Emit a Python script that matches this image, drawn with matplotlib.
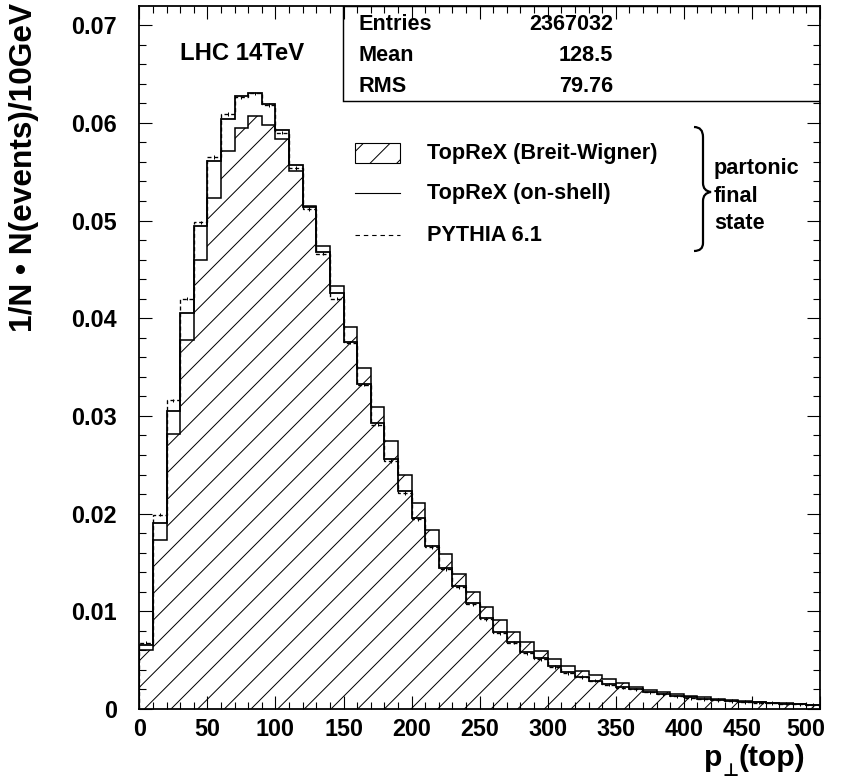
import numpy as np
import matplotlib
matplotlib.use("Agg")
import matplotlib.pyplot as plt
import matplotlib.transforms as mtransforms
from matplotlib.patches import Rectangle, PathPatch
from matplotlib.lines import Line2D
from matplotlib.path import Path

plt.rcParams["font.family"] = ["Liberation Sans", "DejaVu Sans"]
plt.rcParams["font.weight"] = "bold"
plt.rcParams["hatch.linewidth"] = 0.9

# p_T(top) spectra, 10 GeV bins from 0 to 500
bin_edges = np.arange(0, 510, 10)
breit_wigner = [0.0060, 0.0173, 0.0281, 0.0378, 0.0460, 0.0523, 0.0571, 0.0595, 0.0607, 0.0598,
                0.0583, 0.0551, 0.0515, 0.0474, 0.0433, 0.0391, 0.0349, 0.0309, 0.0274, 0.0240,
                0.0211, 0.0183, 0.0159, 0.0138, 0.0120, 0.0104, 0.0091, 0.0079, 0.0069, 0.0059,
                0.0051, 0.0044, 0.0039, 0.0035, 0.0031, 0.0027, 0.0023, 0.0019, 0.0017, 0.0015,
                0.0013, 0.0012, 0.0010, 0.0009, 0.0008, 0.0007, 0.00065, 0.0006, 0.00052, 0.00044]
on_shell = [0.0066, 0.0190, 0.0305, 0.0405, 0.0494, 0.0561, 0.0604, 0.0627, 0.0631, 0.0619,
            0.0593, 0.0557, 0.0514, 0.0468, 0.0426, 0.0376, 0.0333, 0.0293, 0.0256, 0.0223,
            0.0195, 0.0167, 0.0144, 0.0126, 0.0108, 0.0093, 0.0079, 0.0069, 0.0058, 0.0052,
            0.0044, 0.0038, 0.0033, 0.0029, 0.0026, 0.0023, 0.0020, 0.0017, 0.0015, 0.0013,
            0.0012, 0.0010, 0.0009, 0.0008, 0.0007, 0.00068, 0.0006, 0.00055, 0.00048, 0.0004]
pythia = [0.0068, 0.0199, 0.0316, 0.0420, 0.0498, 0.0565, 0.0609, 0.0626, 0.0630, 0.0618,
          0.0590, 0.0554, 0.0512, 0.0466, 0.0420, 0.0375, 0.0332, 0.0291, 0.0254, 0.0221,
          0.0194, 0.0166, 0.0143, 0.0125, 0.0107, 0.0092, 0.0078, 0.0068, 0.0057, 0.0051,
          0.0043, 0.0037, 0.0033, 0.0029, 0.0025, 0.0022, 0.0020, 0.0017, 0.0015, 0.0013,
          0.0011, 0.0010, 0.0009, 0.0008, 0.0007, 0.00066, 0.0006, 0.00054, 0.00047, 0.0004]

stat_names = ["Entries", "Mean", "RMS"]
stat_values = ["2367032", "128.5", "79.76"]
legend_labels = ["TopReX (Breit-Wigner)", "TopReX (on-shell)", "PYTHIA 6.1"]
brace_labels = ["partonic", "final", "state"]

# figure geometry in pixels (dpi 80 so the '/' hatch spacing is ~13px)
W, H, DPI = 843, 781, 80
AX_L, AX_R, AX_T, AX_B = 139.3, 820.0, 5.5, 709.0

fig = plt.figure(figsize=(W / DPI, H / DPI), dpi=DPI)
ax = fig.add_axes([AX_L / W, 1 - AX_B / H, (AX_R - AX_L) / W, (AX_B - AX_T) / H])


def to_ax(x, y):
    # pixel position in the picture -> axes fraction
    return (x - AX_L) / (AX_R - AX_L), (AX_B - y) / (AX_B - AX_T)


ax.stairs(breit_wigner, bin_edges, fill=True, hatch="/", facecolor="white",
          edgecolor="black", linewidth=1.4)
ax.stairs(on_shell, bin_edges, color="black", linewidth=1.6)
ax.stairs(pythia, bin_edges, color="black", linewidth=1.2, linestyle=(0, (3, 2)))
centers = 0.5 * (bin_edges[:-1] + bin_edges[1:])
ax.errorbar(centers, pythia, yerr=0.00018, fmt="none", ecolor="black", elinewidth=0.9)

ax.set_xlim(0, 500)
ax.set_ylim(0, (AX_B - AX_T) / 9770)
ax.set_xticks(np.arange(0, 501, 50))
ax.set_xticks(np.arange(0, 501, 10), minor=True)
ax.set_yticks(np.arange(0, 0.0701, 0.01))
ax.set_yticks(np.arange(0, 0.072, 0.002), minor=True)
ax.set_yticklabels(["0", "0.01", "0.02", "0.03", "0.04", "0.05", "0.06", "0.07"])
ax.tick_params(which="both", direction="in", top=True, right=True, width=1.0, labelsize=21)
ax.tick_params(which="major", length=12)
ax.tick_params(which="minor", length=6.3)
ax.tick_params(axis="y", pad=20)
ax.tick_params(axis="x", pad=8)
for s in ax.spines.values():
    s.set_linewidth(1.6)

# nudge the last x labels left so they stay inside, as in the original
fig.canvas.draw()
xlabels = ax.get_xticklabels()
for lab, dx in [(xlabels[-2], -10), (xlabels[-1], -14)]:
    lab.set_transform(lab.get_transform() + mtransforms.ScaledTranslation(dx / DPI, 0, fig.dpi_scale_trans))

# axis titles
fig.text(24 / W, 1 - 3 / H, "1/N \u2022 N(events)/10GeV", rotation=90, ha="center", va="top",
         fontsize=28.5)
fig.text(805 / W, 1 - 766 / H, "(top)", ha="right", va="baseline", fontsize=27)
fig.text(739 / W, 1 - 776 / H, "\u22a5", ha="right", va="baseline", fontsize=16,
         family="DejaVu Sans")
fig.text(722 / W, 1 - 766 / H, "p", ha="right", va="baseline", fontsize=27)

ax.text(*to_ax(180, 53), "LHC 14TeV", transform=ax.transAxes, ha="left", va="center", fontsize=21.5)

# stats box
x0, y0 = to_ax(343, 101)
ax.add_patch(Rectangle((x0, y0), 1 - x0, 1 - y0, transform=ax.transAxes, fill=False,
                       edgecolor="black", linewidth=1.3, zorder=5))
for i, (name, val) in enumerate(zip(stat_names, stat_values)):
    yy = 24 + 31 * i
    ax.text(*to_ax(358, yy), name, transform=ax.transAxes, ha="left", va="center", fontsize=19.5)
    ax.text(*to_ax(613, yy), val, transform=ax.transAxes, ha="right", va="center", fontsize=19.5)

# legend
bx, by = to_ax(355, 163)
bx2, by2 = to_ax(400, 143)
ax.add_patch(Rectangle((bx, by), bx2 - bx, by2 - by, transform=ax.transAxes, hatch="/",
                       facecolor="white", edgecolor="black", linewidth=1.0))
for yy, ls in [(193, "-"), (235, (0, (4, 3.5)))]:
    (lx1, ly), (lx2, _) = to_ax(355, yy), to_ax(400, yy)
    ax.add_line(Line2D([lx1, lx2], [ly, ly], transform=ax.transAxes, color="black",
                       linewidth=1.0, linestyle=ls))
for yy, lab in zip([153, 193, 235], legend_labels):
    ax.text(*to_ax(427, yy), lab, transform=ax.transAxes, ha="left", va="center", fontsize=19.5)

# curly brace
pts = [(694, 127), (703, 127), (703, 137), (703, 183), (703, 191), (711, 192),
       (703, 193), (703, 201), (703, 243), (703, 251), (694, 251)]
codes = [Path.MOVETO, Path.CURVE3, Path.CURVE3, Path.LINETO, Path.CURVE3, Path.CURVE3,
         Path.CURVE3, Path.CURVE3, Path.LINETO, Path.CURVE3, Path.CURVE3]
brace = Path([to_ax(*p) for p in pts], codes)
ax.add_patch(PathPatch(brace, transform=ax.transAxes, fill=False, edgecolor="black", linewidth=2.0))
for yy, lab in zip([168, 196, 223], brace_labels):
    ax.text(*to_ax(714, yy), lab, transform=ax.transAxes, ha="left", va="center", fontsize=19.5)

fig.savefig("out.png", dpi=DPI)
